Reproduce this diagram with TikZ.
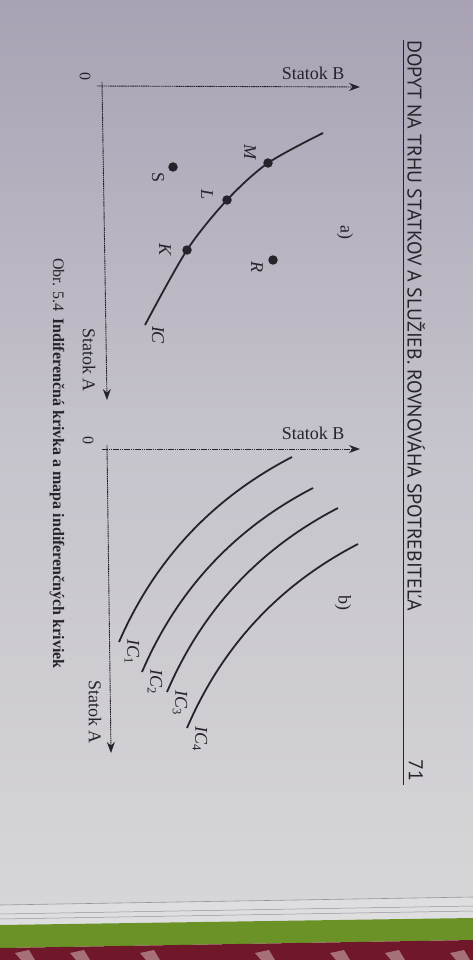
\documentclass[tikz,border=0pt]{standalone}
\usepackage{fontspec}
\setmainfont{Liberation Serif}
\newfontfamily\headfont{PT Sans}
\usetikzlibrary{arrows.meta}
\definecolor{inkc}{RGB}{38,36,42}
\definecolor{pgtop}{RGB}{168,162,180}
\definecolor{pgmid}{RGB}{198,196,204}
\definecolor{pgbot}{RGB}{214,213,215}
\definecolor{edgec}{RGB}{222,221,224}
\definecolor{edgeline}{RGB}{150,148,152}
\definecolor{greenc}{RGB}{106,146,38}
\definecolor{carpetc}{RGB}{112,24,42}
\definecolor{carpetl}{RGB}{190,150,155}
\begin{document}
\begin{tikzpicture}[x=1pt,y=-1pt,
  curve/.style={draw=inkc, line width=1.8pt},
  axis/.style={draw=inkc, line width=0.9pt, dash pattern=on 1.6pt off 0.6pt, -{Stealth[length=11pt,width=8pt]}},
  lbl/.style={text=inkc, font=\fontsize{18}{20}\selectfont, inner sep=0pt},
  vlbl/.style={lbl, rotate=-90},
  vit/.style={vlbl, font=\fontsize{18}{20}\selectfont\itshape},
  dotp/.style={circle, fill=inkc, inner sep=0pt, minimum size=9.5pt},
]
\useasboundingbox (0,0) rectangle (473,960);
% ---- photo background ----
\shade[top color=pgtop, bottom color=pgbot, middle color=pgmid] (0,0) rectangle (473,905);
\fill[edgec] (0,905) -- (473,897) -- (473,920) -- (0,927) -- cycle;
\draw[edgeline, line width=0.6pt] (0,905) -- (473,897);
\draw[edgeline, line width=0.5pt] (0,914) -- (473,906);
\draw[edgeline, line width=0.5pt] (0,919) -- (473,911);
\fill[greenc] (0,925) -- (473,918) -- (473,940) -- (0,948) -- cycle;
\fill[carpetc] (0,948) -- (473,940) -- (473,960) -- (0,960) -- cycle;
\foreach \cx in {15,70,140,255,330,385,450}
  \fill[carpetl, opacity=0.7] (\cx,953) -- (\cx+14,950) -- (\cx+20,960) -- (\cx+6,960) -- cycle;

% ---- header ----
\draw[inkc, line width=1pt] (403,40) -- (403,785);
\node[rotate=-90, anchor=west, text=inkc, inner sep=0pt, font=\headfont\fontsize{19.8}{22}\selectfont]
  (head) at (416,40) {DOPYT NA TRHU STATKOV A SLUŽIEB. ROVNOVÁHA SPOTREBITEĽA};
\node[rotate=-90, text=inkc, inner sep=0pt, font=\headfont\fontsize{20}{22}\selectfont]
  (pnum) at (416,770) {71};

% ---- panel a ----
\coordinate (aBs) at (97,86);
\coordinate (aBe) at (360,87);
\coordinate (aAs) at (102,82);
\coordinate (aAe) at (107,400);
\draw[axis] (aBs) -- (aBe);
\draw[axis] (aAs) -- (aAe);
\node[lbl] (aBlab) at (313,73) {Statok B};
\node[vlbl] (aAlab) at (89,360) {Statok A};
\node[vlbl, font=\fontsize{16}{18}\selectfont] (a0) at (85,77) {0};
\node[vlbl] (atag) at (345,232) {a)};

\coordinate (aS) at (323,133);
\coordinate (pM) at (268,163);
\coordinate (pL) at (227,200);
\coordinate (pK) at (187,250);
\coordinate (aE) at (145,325);
\draw[curve] plot[smooth] coordinates {(aS) (pM) (pL) (pK) (aE)};
\node[dotp] (dM) at (pM) {};
\node[dotp] (dL) at (pL) {};
\node[dotp] (dK) at (pK) {};
\node[dotp] (dS) at (173,167) {};
\node[dotp] (dR) at (273,260) {};
\node[vit] (lM) at (250,152) {M};
\node[vit] (lL) at (207,195) {L};
\node[vit] (lK) at (165,250) {K};
\node[vlbl] (lS) at (158,178) {S};
\node[vit] (lR) at (257,267) {R};
\node[vit] (lIC) at (158,335) {IC};

% ---- panel b ----
\coordinate (bBs) at (102,449);
\coordinate (bBe) at (360,449);
\coordinate (bAs) at (107,445);
\coordinate (bAe) at (111,753);
\draw[axis] (bBs) -- (bBe);
\draw[axis] (bAs) -- (bAe);
\node[lbl] (bBlab) at (313,433) {Statok B};
\node[vlbl] (bAlab) at (95,712) {Statok A};
\node[vlbl, font=\fontsize{16}{18}\selectfont] (b0) at (88,440) {0};
\node[vlbl] (btag) at (343,603) {b)};

\coordinate (c1s) at (292,457);  \coordinate (c1e) at (119,642);
\coordinate (c2s) at (313,488);  \coordinate (c2e) at (142,672);
\coordinate (c3s) at (338,508);  \coordinate (c3e) at (167,692);
\coordinate (c4s) at (358,544);  \coordinate (c4e) at (187,728);
\draw[curve] (c1s) .. controls (212.4,498.2) and (154.8,559.8) .. (c1e);
\draw[curve] (c2s) .. controls (234.1,528.8) and (177.1,590.2) .. (c2e);
\draw[curve] (c3s) .. controls (259.1,548.8) and (202.1,610.2) .. (c3e);
\draw[curve] (c4s) .. controls (279.1,584.8) and (222.1,646.2) .. (c4e);
\node[vlbl] (l1) at (132,652) {\textit{IC}\textsubscript{1}};
\node[vlbl] (l2) at (155,682) {\textit{IC}\textsubscript{2}};
\node[vlbl] (l3) at (180,703) {\textit{IC}\textsubscript{3}};
\node[vlbl] (l4) at (200,739) {\textit{IC}\textsubscript{4}};

% ---- caption ----
\node[rotate=-90, anchor=west, text=inkc, inner sep=0pt, font=\fontsize{16}{18}\selectfont]
  (cap) at (57,258) {Obr. 5.4\hspace{7pt}\textbf{Indiferenčná krivka a mapa indiferenčných kriviek}};
\end{tikzpicture}
\end{document}
